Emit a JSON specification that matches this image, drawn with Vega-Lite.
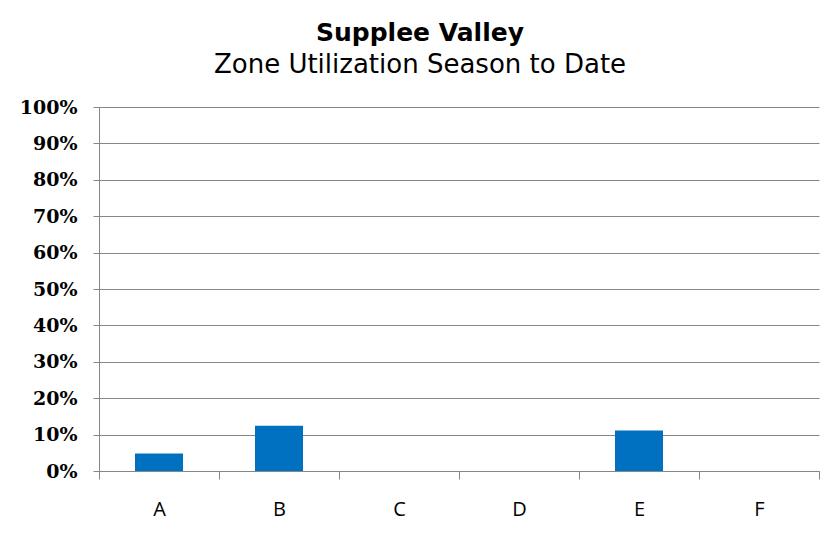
{
  "$schema": "https://vega.github.io/schema/vega-lite/v6.json",
  "width": 720,
  "height": 364,
  "autosize": {"type": "none"},
  "padding": {"left": 99, "top": 107, "right": 7, "bottom": 80},
  "background": "white",
  "title": {
    "text": "Supplee Valley",
    "subtitle": "Zone Utilization  Season to Date",
    "font": "DejaVu Sans",
    "fontSize": 25,
    "fontWeight": "bold",
    "color": "black",
    "subtitleFont": "DejaVu Sans",
    "subtitleFontSize": 26,
    "subtitleColor": "black",
    "subtitlePadding": 6,
    "anchor": "middle",
    "dx": -39,
    "offset": 20
  },
  "data": {
    "values": [
      {"zone": "A", "util": 0.048},
      {"zone": "B", "util": 0.124},
      {"zone": "C", "util": 0},
      {"zone": "D", "util": 0},
      {"zone": "E", "util": 0.111},
      {"zone": "F", "util": 0}
    ]
  },
  "mark": {"type": "bar", "color": "#0070C0", "width": {"band": 0.4}},
  "encoding": {
    "x": {
      "field": "zone",
      "type": "nominal",
      "sort": null,
      "scale": {"paddingInner": 0, "paddingOuter": 0},
      "axis": {
        "title": null,
        "labelAngle": 0,
        "tickBand": "extent",
        "tickSize": 8,
        "tickColor": "#868686",
        "domainColor": "#868686",
        "labelFont": "Open Sans",
        "labelFontSize": 20,
        "labelColor": "black",
        "labelPadding": 20,
        "grid": false
      }
    },
    "y": {
      "field": "util",
      "type": "quantitative",
      "scale": {"domain": [0, 1]},
      "axis": {
        "title": null,
        "format": ".0%",
        "values": [0, 0.1, 0.2, 0.3, 0.4, 0.5, 0.6, 0.7, 0.8, 0.9, 1],
        "grid": true,
        "gridColor": "#868686",
        "gridOpacity": 1,
        "tickSize": 6,
        "tickColor": "#868686",
        "domainColor": "#868686",
        "labelFont": "DejaVu Serif",
        "labelFontSize": 19,
        "labelFontWeight": "bold",
        "labelColor": "black",
        "labelPadding": 16
      }
    }
  },
  "config": {"view": {"stroke": null}}
}
